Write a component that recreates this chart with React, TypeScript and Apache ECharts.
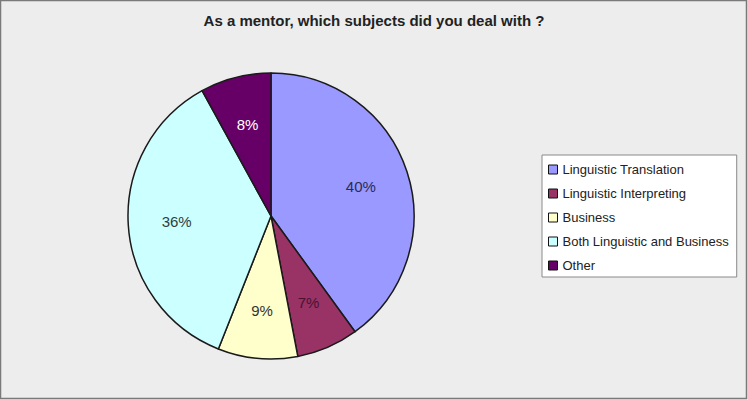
import React, { useEffect, useRef } from "react";
import * as echarts from "echarts";

const titleText = "As a mentor, which subjects did you deal with ?";
const categories = [
  "Linguistic Translation",
  "Linguistic Interpreting",
  "Business",
  "Both Linguistic and Business",
  "Other",
];
const values = [40, 7, 9, 36, 8];
const sliceColors = ["#9999FF", "#993366", "#FFFFCC", "#CCFFFF", "#660066"];
const labelColors = ["#2b2b55", "#4a1230", "#333333", "#2e3e3e", "#ffffff"];

export default function App() {
  const ref = useRef<HTMLDivElement>(null);
  useEffect(() => {
    if (!ref.current) return;
    const chart = echarts.init(ref.current, undefined, { renderer: "svg" });
    const total = values.reduce((a, b) => a + b, 0);
    chart.setOption({
      animation: false,
      backgroundColor: "#ededed",
      title: {
        text: titleText,
        left: "center",
        top: 8,
        textStyle: {
          fontFamily: "'Liberation Sans', Arial, sans-serif",
          fontSize: 15,
          fontWeight: "bold",
          color: "#222222",
        },
      },
      graphic: [
        {
          type: "rect",
          shape: { x: 0.5, y: 0.5, width: 746, height: 398 },
          style: { fill: "none", stroke: "#7a7a7a", lineWidth: 1.5 },
          silent: true,
        },
      ],
      legend: {
        orient: "vertical",
        left: 542,
        top: 155,
        data: categories,
        backgroundColor: "#ffffff",
        borderColor: "#8a8a8a",
        borderWidth: 1,
        borderRadius: 0,
        padding: [8, 8, 5, 6],
        itemGap: 11,
        itemWidth: 9,
        itemHeight: 9,
        icon: "rect",
        itemStyle: { borderColor: "#111111", borderWidth: 1 },
        textStyle: {
          fontFamily: "'Liberation Sans', Arial, sans-serif",
          fontSize: 13,
          color: "#222222",
        },
      },
      series: [
        {
          type: "pie",
          center: [271, 216],
          radius: [0, 143],
          startAngle: 90,
          clockwise: true,
          label: { show: false },
          labelLine: { show: false },
          emphasis: { disabled: true },
          itemStyle: { borderColor: "#1a1a1a", borderWidth: 1.5 },
          data: categories.map((name, i) => ({
            name,
            value: values[i],
            itemStyle: { color: sliceColors[i] },
          })),
        },
        {
          type: "pie",
          center: [271, 216],
          radius: [40, 143],
          startAngle: 90,
          clockwise: true,
          silent: true,
          emphasis: { disabled: true },
          labelLine: { show: false },
          itemStyle: { color: "transparent", borderWidth: 0 },
          label: {
            show: true,
            position: "inside",
            fontFamily: "'Liberation Sans', Arial, sans-serif",
            fontSize: 15,
            formatter: (p: any) => Math.round((p.value / total) * 100) + "%",
          },
          data: categories.map((name, i) => ({
            name,
            value: values[i],
            label: { color: labelColors[i] },
          })),
        },
      ],
    });
    return () => chart.dispose();
  }, []);
  return (
    <div
      ref={ref}
      style={{ position: "fixed", left: 0, top: 0, width: 748, height: 400 }}
    />
  );
}
